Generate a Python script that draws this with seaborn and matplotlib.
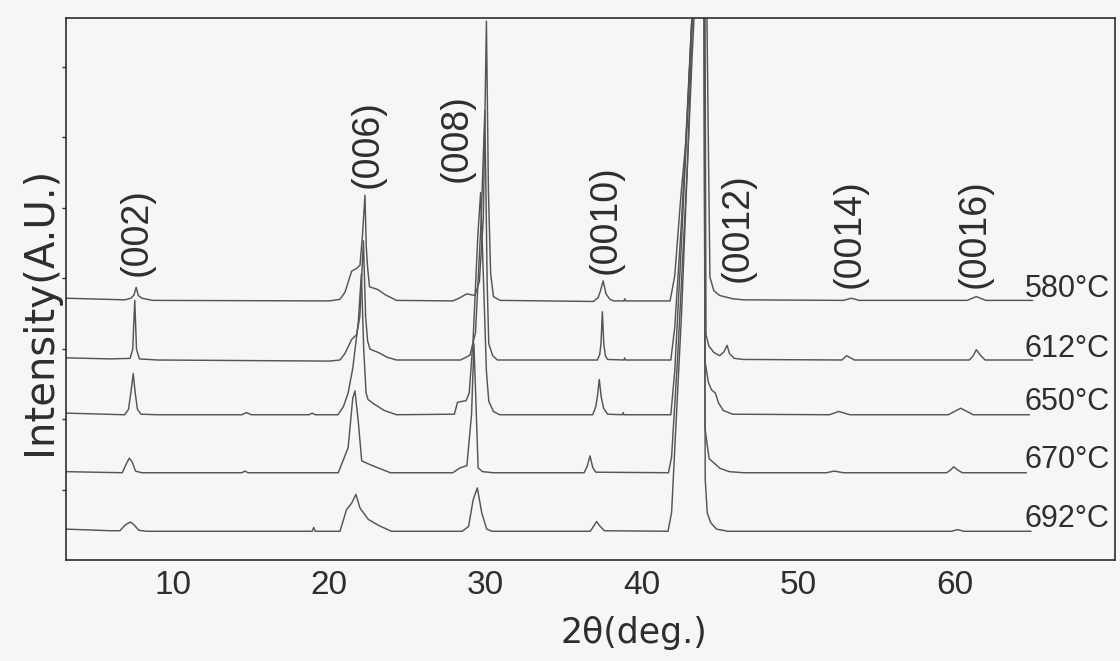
import numpy as np
import pandas as pd
import matplotlib
matplotlib.use("Agg")
import matplotlib.pyplot as plt
import seaborn as sns

# Annealing temperatures and the vertical offset used to stack each pattern
temperatures = ["580°C", "612°C", "650°C", "670°C", "692°C"]
offsets = [47.9, 36.9, 26.8, 16.1, 5.3]

tt_580 = [3.15, 6.9, 7.3, 7.5, 7.64, 7.78, 8.0, 8.7, 20.0, 20.68, 21.0, 21.43, 21.75,
          21.96, 22.12, 22.28, 22.36, 22.45, 22.57, 23.1, 23.6, 24.3, 27.9, 28.3,
          28.79, 29.32, 29.6, 29.85, 30.05, 30.18, 30.32, 30.5, 30.92, 36.9, 37.2,
          37.35, 37.52, 37.7, 37.95, 38.2, 38.85, 38.9, 38.95, 41.8, 42.1, 42.5,
          42.8, 43.2, 43.95, 44.16, 44.35, 44.6, 44.98, 45.8, 46.5, 52.9, 53.4,
          53.9, 60.8, 61.4, 62.0, 65.0]
int_580 = [0.4, 0.1, 0.4, 1.0, 2.4, 0.9, 0.4, 0.0, -0.1, 0.2, 1.5, 5.4, 5.9,
           6.5, 12.0, 19.4, 10.0, 6.0, 2.5, 2.0, 1.0, 0.0, -0.1, 0.4,
           1.2, 0.9, 3.5, 15.0, 51.5, 20.0, 5.0, 0.7, 0.0, -0.2, 0.5,
           1.8, 3.6, 1.2, 0.2, -0.1, -0.1, 0.3, -0.1, -0.1, 4.5, 19.5,
           29.0, 52.5, 95.0, 52.0, 4.3, 1.8, 0.9, 0.3, 0.1, 0.0, 0.4,
           0.0, 0.0, 0.7, 0.0, 0.0]

tt_612 = [3.15, 6.0, 7.25, 7.42, 7.55, 7.66, 7.85, 9.0, 20.0, 20.68, 21.0, 21.43,
          21.75, 21.95, 22.18, 22.32, 22.45, 22.6, 23.2, 23.7, 24.3, 28.4, 29.0,
          29.35, 29.7, 29.95, 30.1, 30.2, 30.45, 30.75, 37.15, 37.3, 37.38, 37.47,
          37.56, 37.66, 37.8, 38.85, 38.9, 38.95, 41.85, 42.1, 42.5, 42.9, 43.2,
          43.95, 44.04, 44.1, 44.28, 44.6, 44.97, 45.25, 45.45, 45.6, 45.9, 46.5,
          52.8, 53.1, 53.6, 60.95, 61.2, 61.4, 61.65, 61.96, 65.0]
int_612 = [0.4, 0.2, 0.3, 2.0, 11.0, 2.0, 0.2, 0.0, -0.2, 0.0, 1.2, 3.8,
           4.7, 8.0, 22.0, 8.0, 3.5, 2.0, 1.3, 0.5, 0.0, 0.0, 0.9,
           5.0, 25.0, 46.0, 14.0, 3.0, 0.8, 0.0, 0.0, 1.0, 3.0, 8.9,
           3.0, 0.8, 0.1, 0.0, 0.4, 0.0, 0.0, 6.0, 24.0, 45.0, 63.0,
           110.0, 62.0, 4.7, 2.6, 1.4, 0.8, 1.5, 2.7, 1.2, 0.3, 0.1,
           0.0, 0.8, 0.0, 0.0, 0.8, 1.9, 0.9, 0.0, 0.0]

tt_650 = [3.15, 6.9, 7.15, 7.32, 7.45, 7.58, 7.72, 7.95, 9.0, 14.4, 14.7, 15.0,
          18.7, 18.9, 19.1, 20.55, 20.9, 21.2, 21.5, 21.85, 22.05, 22.2, 22.35,
          22.48, 22.8, 23.5, 24.3, 28.0, 28.2, 28.75, 28.95, 29.2, 29.5, 29.68,
          29.85, 30.05, 30.2, 30.5, 30.9, 36.85, 37.05, 37.17, 37.27, 37.4, 37.55,
          37.8, 38.75, 38.8, 38.85, 41.85, 42.1, 42.5, 42.9, 43.2, 43.95, 44.04,
          44.25, 44.45, 44.7, 44.9, 45.2, 45.8, 52.0, 52.6, 53.3, 59.6, 60.0,
          60.4, 60.8, 61.2, 64.8]
int_650 = [0.3, 0.0, 1.0, 4.5, 7.6, 4.0, 1.0, 0.1, 0.0, 0.0, 0.4, 0.0,
           0.0, 0.3, 0.0, 0.0, 1.5, 4.0, 8.6, 17.0, 26.0, 12.0, 4.0,
           2.8, 2.1, 0.8, 0.0, 0.1, 2.3, 2.6, 4.0, 14.0, 33.0, 41.0,
           26.0, 8.0, 2.5, 0.6, 0.0, 0.0, 1.5, 3.8, 6.5, 3.2, 1.2,
           0.1, 0.0, 0.4, 0.0, 0.0, 8.0, 30.0, 54.0, 73.0, 115.0, 9.8,
           6.0, 4.6, 4.0, 2.2, 0.8, 0.1, 0.0, 0.6, 0.0, 0.0, 0.6,
           1.2, 0.6, 0.0, 0.0]

tt_670 = [3.15, 6.75, 7.0, 7.2, 7.38, 7.6, 8.0, 14.4, 14.6, 14.8, 20.57, 21.2,
          21.5, 21.64, 21.85, 22.07, 22.6, 23.9, 27.9, 28.36, 28.8, 29.1, 29.25,
          29.37, 29.52, 29.8, 30.5, 36.3, 36.5, 36.68, 36.85, 37.05, 41.7, 41.9,
          42.3, 42.9, 43.2, 43.95, 44.04, 44.3, 45.0, 45.6, 46.5, 51.8, 52.3,
          52.9, 59.5, 59.75, 59.95, 60.2, 60.5, 64.6]
int_670 = [0.2, 0.0, 1.6, 2.7, 2.0, 0.3, 0.0, 0.0, 0.3, 0.0, 0.0, 4.6,
           13.8, 15.1, 9.5, 2.2, 1.5, 0.0, 0.0, 0.9, 1.3, 10.8, 23.8,
           13.8, 0.9, 0.2, 0.0, 0.0, 1.2, 3.1, 1.0, 0.1, 0.0, 3.0,
           22.0, 56.0, 76.0, 120.0, 8.1, 2.6, 0.8, 0.2, 0.0, 0.0, 0.3,
           0.0, 0.0, 0.5, 1.1, 0.5, 0.0, 0.0]

tt_692 = [3.15, 6.0, 6.6, 6.95, 7.28, 7.5, 7.8, 8.3, 18.9, 19.0, 19.1, 20.68,
          21.1, 21.43, 21.7, 21.96, 22.49, 23.2, 23.98, 28.5, 28.91, 29.2, 29.47,
          29.75, 30.07, 30.4, 36.7, 36.9, 37.1, 37.3, 37.6, 41.67, 41.9, 42.11,
          42.54, 42.96, 43.25, 43.95, 44.05, 44.18, 44.4, 44.77, 45.5, 59.8,
          60.2, 60.6, 64.9]
int_692 = [0.4, 0.1, 0.1, 1.2, 1.7, 1.2, 0.2, 0.0, 0.0, 0.7, 0.0, 0.0,
           4.0, 5.2, 6.8, 4.3, 2.2, 1.0, 0.0, 0.0, 0.9, 5.8, 8.0,
           3.4, 0.4, 0.0, 0.0, 0.9, 1.8, 1.0, 0.1, 0.0, 3.5, 15.7,
           40.4, 71.3, 96.0, 140.0, 9.6, 3.4, 1.6, 0.4, 0.0, 0.0,
           0.3, 0.0, 0.0]

two_theta = [tt_580, tt_612, tt_650, tt_670, tt_692]
intensity = [int_580, int_612, int_650, int_670, int_692]

# (00l) reflection labels: 2θ of the label centre and height of its lower end
reflections = ["(002)", "(006)", "(008)", "(0010)", "(0012)", "(0014)", "(0016)"]
refl_tt = [7.64, 22.48, 28.17, 37.70, 46.15, 53.32, 61.32]
refl_level = [52.4, 68.6, 69.7, 52.8, 51.3, 50.2, 50.2]

# Temperature tags at the right end of each trace
temp_tt = 64.5
temp_level = [48.6, 37.5, 27.7, 16.9, 6.1]

x_ticks = [10, 20, 30, 40, 50, 60]
y_marks = [13, 26, 39, 52, 65, 78, 91]

# Long-form table for seaborn
frames = []
for temp, off, tt, inten in zip(temperatures, offsets, two_theta, intensity):
    frames.append(pd.DataFrame({"two_theta": tt,
                                "signal": np.asarray(inten) + off,
                                "sample": temp}))
df = pd.concat(frames, ignore_index=True)

paper = "#f6f6f6"
ink = "#2e2e2e"
trace_c = "#555555"

sns.set_theme(style="white", rc={"axes.facecolor": paper, "figure.facecolor": paper,
                                 "axes.edgecolor": ink, "axes.linewidth": 1.2})
sans = ["Liberation Sans", "DejaVu Sans"]
wide = ["DejaVu Sans"]
plt.rcParams["font.family"] = sans

fig = plt.figure(figsize=(11.2, 6.61), dpi=100)
ax = fig.add_axes([66 / 1120, 1 - 560 / 661, 1049 / 1120, 542 / 661])

sns.lineplot(data=df, x="two_theta", y="signal", units="sample", estimator=None,
             sort=False, color=trace_c, linewidth=1.05, legend=False, ax=ax)

ax.set_xlim(3.15, 70.27)
ax.set_ylim(0, 100)

ax.set_xticks(x_ticks)
ax.set_xticklabels([str(t) for t in x_ticks], fontsize=24, family=sans, color=ink)
ax.tick_params(axis="x", direction="in", length=7, width=1.2, pad=7, color=ink)
ax.set_yticks(y_marks)
ax.set_yticklabels([])
ax.tick_params(axis="y", direction="out", length=3, width=1.0, color=ink, left=True)

for s in ax.spines.values():
    s.set_visible(True)
    s.set_color(ink)
    s.set_linewidth(1.2)

ax.set_xlabel("2θ(deg.)", fontsize=25, family=wide, color=ink)
ax.xaxis.set_label_coords(0.5415, -0.104)
ax.set_ylabel("Intensity(A.U.)", fontsize=29, family=wide, color=ink)
ax.yaxis.set_label_coords(-0.006, 0.459)

for lab, xt, yl in zip(reflections, refl_tt, refl_level):
    ax.text(xt, yl, lab, rotation=90, ha="center", va="bottom",
            fontsize=27, family=sans, color=ink)

for temp, yl in zip(temperatures, temp_level):
    ax.text(temp_tt, yl, temp, ha="left", va="baseline",
            fontsize=22, family=sans, color=ink)

fig.savefig("out.png", dpi=100, facecolor=paper)
